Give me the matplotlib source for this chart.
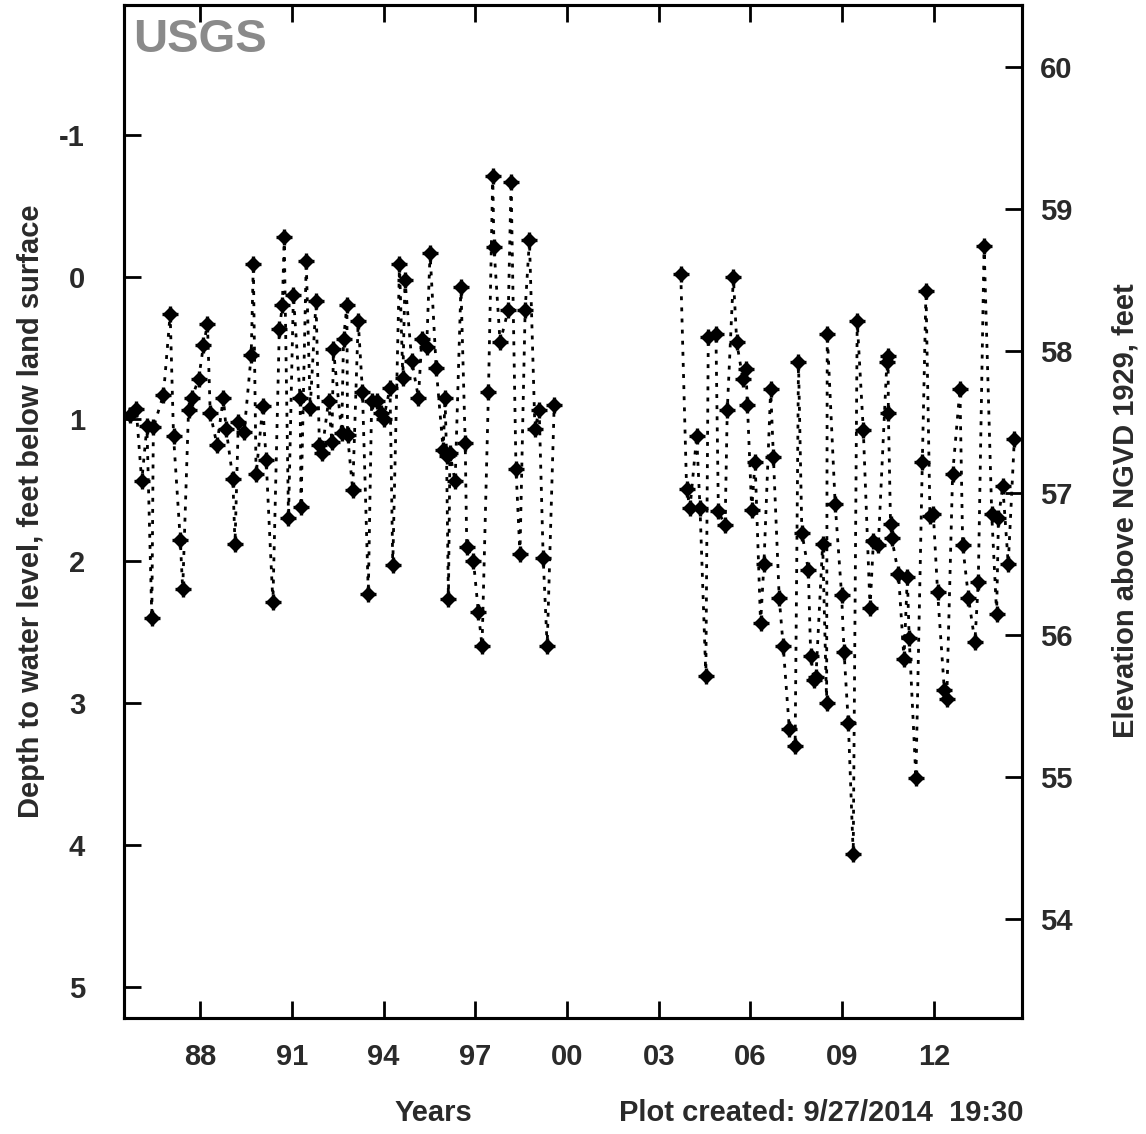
import matplotlib.pyplot as plt

# Land surface elevation (feet above NGVD 1929) used for the right-hand axis
LAND_SURFACE = 58.52

# 1985-1999 record (decimal year, depth to water in feet)
years_a = [1985.71, 1985.91, 1986.09, 1986.26, 1986.42, 1986.47, 1986.80, 1987.02,
           1987.13, 1987.35, 1987.43, 1987.62, 1987.73, 1987.95, 1988.11, 1988.24,
           1988.33, 1988.55, 1988.76, 1988.85, 1989.07, 1989.14, 1989.25, 1989.44,
           1989.67, 1989.74, 1989.83, 1990.05, 1990.16, 1990.38, 1990.59, 1990.69,
           1990.75, 1990.89, 1991.05, 1991.27, 1991.30, 1991.47, 1991.60, 1991.79,
           1991.90, 1991.98, 1992.20, 1992.31, 1992.36, 1992.63, 1992.69, 1992.80,
           1992.82, 1992.99, 1993.17, 1993.31, 1993.50, 1993.61, 1993.77, 1993.90,
           1994.00, 1994.21, 1994.30, 1994.52, 1994.63, 1994.70, 1994.92, 1995.14,
           1995.25, 1995.41, 1995.52, 1995.72, 1995.95, 1996.01, 1996.06, 1996.12,
           1996.17, 1996.34, 1996.53, 1996.67, 1996.72, 1996.94, 1997.10, 1997.22,
           1997.43, 1997.57, 1997.61, 1997.81, 1998.08, 1998.17, 1998.33, 1998.46,
           1998.63, 1998.77, 1998.95, 1999.09, 1999.22, 1999.35, 1999.58]
depth_a = [0.97, 0.93, 1.44, 1.05, 2.40, 1.06, 0.83, 0.26,
           1.12, 1.85, 2.20, 0.94, 0.85, 0.72, 0.48, 0.33,
           0.96, 1.18, 0.85, 1.07, 1.42, 1.88, 1.02, 1.09,
           0.55, -0.09, 1.39, 0.91, 1.29, 2.29, 0.37, 0.20,
           -0.28, 1.70, 0.13, 0.85, 1.62, -0.11, 0.92, 0.17,
           1.18, 1.24, 0.87, 1.16, 0.51, 1.10, 0.44, 0.20,
           1.11, 1.50, 0.31, 0.81, 2.23, 0.87, 0.87, 0.96,
           1.00, 0.78, 2.03, -0.09, 0.71, 0.02, 0.59, 0.85,
           0.44, 0.49, -0.17, 0.64, 1.22, 0.85, 1.26, 2.27,
           1.24, 1.44, 0.07, 1.17, 1.90, 2.00, 2.36, 2.60,
           0.81, -0.71, -0.21, 0.46, 0.23, -0.67, 1.35, 1.95,
           0.23, -0.26, 1.07, 0.94, 1.98, 2.60, 0.90]

# 2003-2014 record
years_b = [2003.72, 2003.91, 2004.02, 2004.24, 2004.35, 2004.54, 2004.62, 2004.87,
           2004.95, 2005.17, 2005.24, 2005.44, 2005.55, 2005.75, 2005.85, 2005.90,
           2006.04, 2006.15, 2006.33, 2006.44, 2006.66, 2006.75, 2006.94, 2007.07,
           2007.27, 2007.46, 2007.57, 2007.68, 2007.89, 2007.97, 2008.08, 2008.14,
           2008.36, 2008.49, 2008.51, 2008.77, 2008.98, 2009.06, 2009.20, 2009.36,
           2009.49, 2009.69, 2009.91, 2010.02, 2010.18, 2010.46, 2010.50, 2010.51,
           2010.58, 2010.62, 2010.84, 2011.02, 2011.13, 2011.19, 2011.41, 2011.62,
           2011.74, 2011.87, 2011.98, 2012.12, 2012.34, 2012.42, 2012.61, 2012.85,
           2012.94, 2013.13, 2013.34, 2013.45, 2013.64, 2013.89, 2014.05, 2014.11,
           2014.25, 2014.43, 2014.63]
depth_b = [-0.02, 1.49, 1.63, 1.12, 1.63, 2.81, 0.42, 0.40,
           1.65, 1.75, 0.94, 0.00, 0.46, 0.72, 0.65, 0.90,
           1.64, 1.30, 2.44, 2.02, 0.79, 1.27, 2.26, 2.60,
           3.18, 3.30, 0.60, 1.80, 2.06, 2.67, 2.84, 2.82,
           1.88, 3.00, 0.40, 1.60, 2.24, 2.64, 3.14, 4.06,
           0.31, 1.08, 2.33, 1.86, 1.89, 0.60, 0.56, 0.96,
           1.74, 1.84, 2.09, 2.69, 2.11, 2.54, 3.53, 1.30,
           0.10, 1.68, 1.67, 2.22, 2.91, 2.97, 1.39, 0.79,
           1.89, 2.26, 2.57, 2.15, -0.22, 1.67, 2.37, 1.70,
           1.47, 2.02, 1.14]

year_ticks = [1988, 1991, 1994, 1997, 2000, 2003, 2006, 2009, 2012]
year_labels = ['88', '91', '94', '97', '00', '03', '06', '09', '12']
depth_ticks = [-1, 0, 1, 2, 3, 4, 5]
elev_ticks = [54, 55, 56, 57, 58, 59, 60]

plt.rcParams['font.family'] = ['Liberation Sans', 'DejaVu Sans']
plt.rcParams['font.weight'] = 'bold'
plt.rcParams['axes.unicode_minus'] = False
TXT = '#2a2a2a'

fig = plt.figure(figsize=(11.46, 11.34), dpi=100)
ax = fig.add_axes([0.1082, 0.1023, 0.7836, 0.8933])

for yrs, dep in [(years_a, depth_a), (years_b, depth_b)]:
    ax.plot(yrs, dep, color='black', linewidth=2.0, linestyle=(0, (1.4, 2.6)))
    ax.plot(yrs, dep, linestyle='none', marker='D', markersize=7.5, color='black')
    ax.plot(yrs, dep, linestyle='none', marker='+', markersize=12, markeredgewidth=2.4, color='black')

ax.set_xlim(1985.51, 2014.88)
ax.set_ylim(5.218, -1.915)
ax.set_xticks(year_ticks)
ax.set_xticklabels(year_labels)
ax.set_yticks(depth_ticks)
ax.tick_params(axis='x', direction='in', length=12, width=2, top=True, pad=18,
               labelsize=21, labelcolor=TXT)
ax.tick_params(axis='y', direction='in', length=12, width=2, right=False, pad=28,
               labelsize=21, labelcolor=TXT)
for s in ax.spines.values():
    s.set_linewidth(2.2)

# right-hand elevation axis
ax2 = ax.twinx()
lo, hi = ax.get_ylim()
ax2.set_ylim(LAND_SURFACE - lo, LAND_SURFACE - hi)
ax2.set_yticks(elev_ticks)
ax2.tick_params(axis='y', direction='in', length=12, width=2, pad=13,
                labelsize=21, labelcolor=TXT)
for s in ax2.spines.values():
    s.set_linewidth(2.2)

ax.text(0.010, 0.987, 'USGS', transform=ax.transAxes, ha='left', va='top',
        fontsize=34, fontweight='bold', color='#8a8a8a')

fig.text(31 / 1146, 1 - 511 / 1134, 'Depth to water level, feet below land surface',
         rotation=90, ha='center', va='center', fontsize=21, color=TXT)
fig.text(1126 / 1146, 1 - 511 / 1134, 'Elevation above NGVD 1929, feet',
         rotation=90, ha='center', va='center', fontsize=21, color=TXT)
fig.text(433 / 1146, 1 - 1113 / 1134, 'Years', ha='center', va='center',
         fontsize=21, color=TXT)
fig.text(821 / 1146, 1 - 1113 / 1134, 'Plot created: 9/27/2014  19:30', ha='center',
         va='center', fontsize=21, color=TXT)

fig.savefig('out.png', dpi=100)
